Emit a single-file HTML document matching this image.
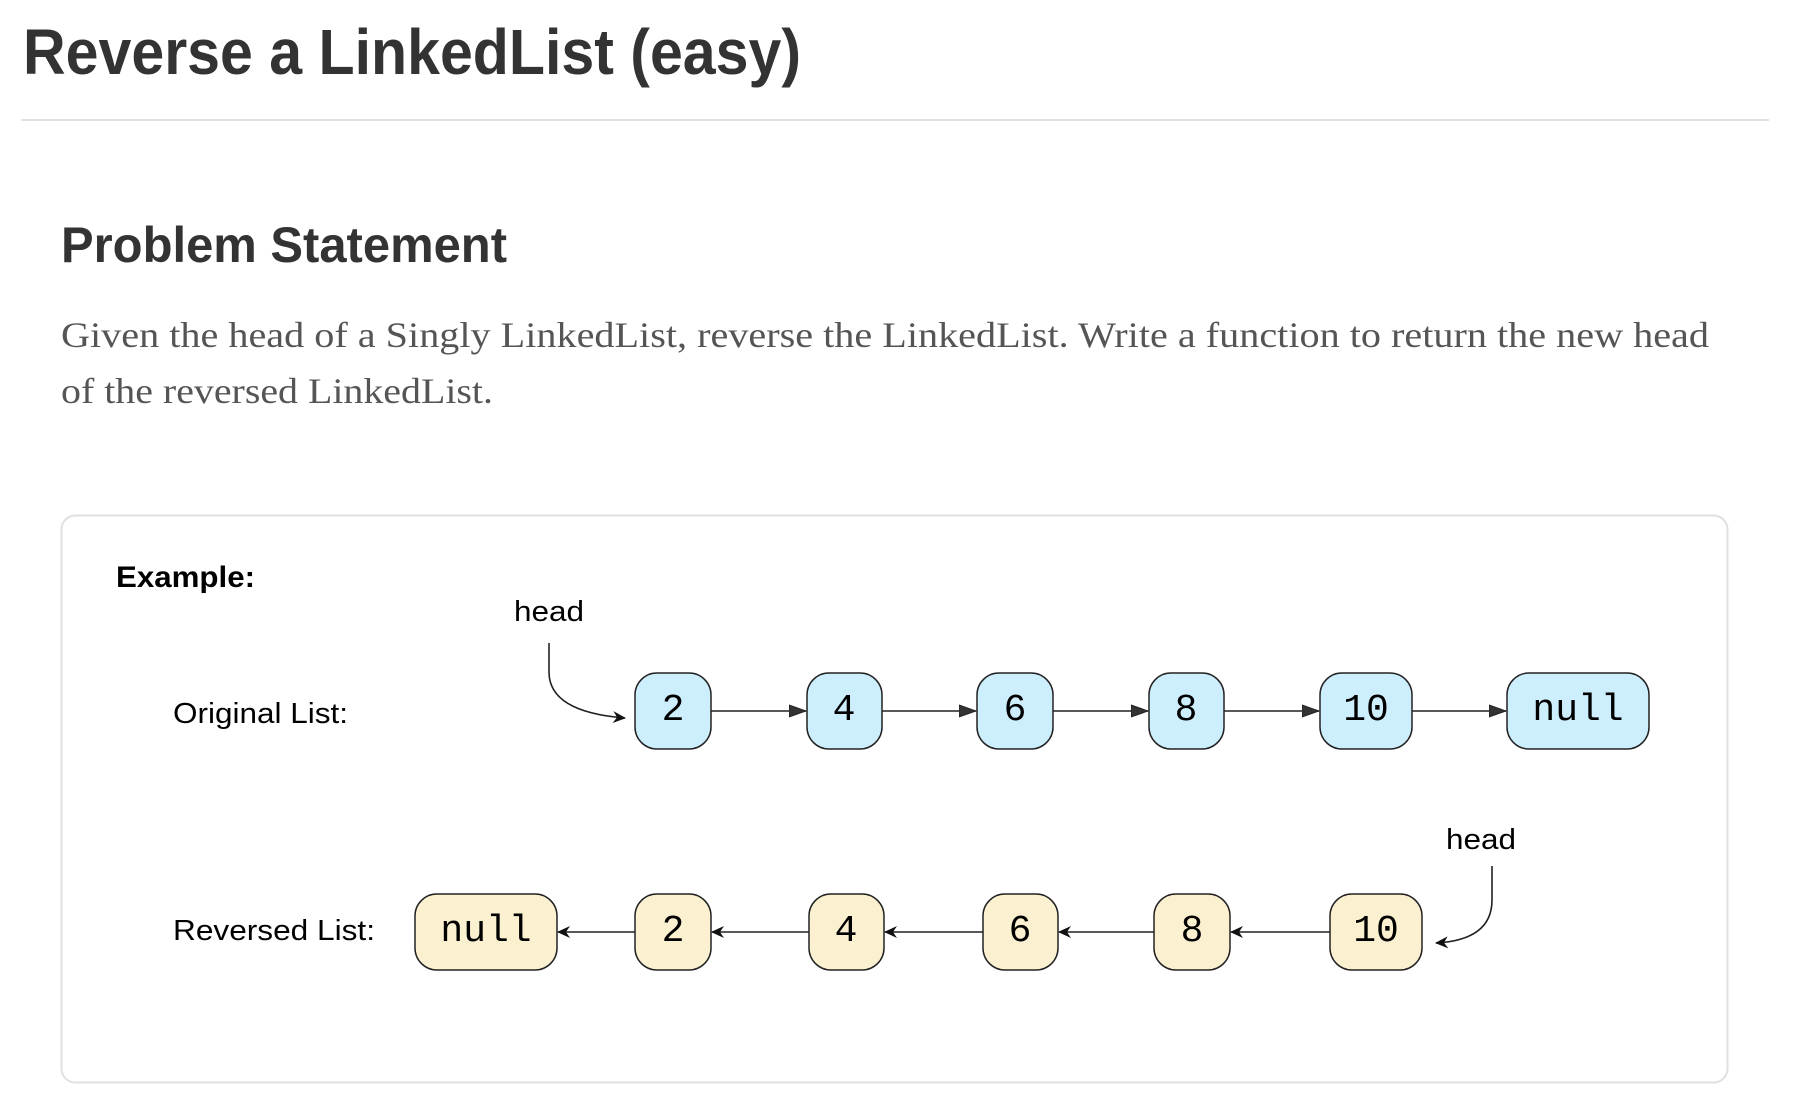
<!DOCTYPE html>
<html><head><meta charset="utf-8"><style>html,body{margin:0;padding:0;background:#fff}svg{display:block}</style></head>
<body>
<svg width="1794" height="1120" viewBox="0 0 1794 1120" xmlns="http://www.w3.org/2000/svg">
<defs>
<marker id="tri" markerWidth="18" markerHeight="14" refX="17" refY="7" orient="auto" markerUnits="userSpaceOnUse" viewBox="0 0 18 14">
<path d="M0,1 L17,7 L0,13 z" fill="#333" stroke="#222" stroke-width="1"/></marker>
<marker id="stl" markerWidth="14" markerHeight="14" refX="12" refY="7" orient="auto" markerUnits="userSpaceOnUse" viewBox="0 0 14 14">
<path d="M0,1 L13,7 L0,13 L4,7 z" fill="#111"/></marker>
</defs>
<g font-family="Liberation Sans, sans-serif" fill="#333">
<text x="23" y="74" font-size="64" font-weight="bold" textLength="778" lengthAdjust="spacingAndGlyphs">Reverse a LinkedList (easy)</text>
<rect x="21" y="119" width="1748" height="2" fill="#e2e2e2"/>
<text x="61" y="262" font-size="50" font-weight="bold" textLength="446" lengthAdjust="spacingAndGlyphs">Problem Statement</text>
</g>
<g font-family="Liberation Serif, serif" fill="#555" font-size="36">
<text x="61" y="347" textLength="1648" lengthAdjust="spacingAndGlyphs">Given the head of a Singly LinkedList, reverse the LinkedList. Write a function to return the new head</text>
<text x="61" y="403" textLength="432" lengthAdjust="spacingAndGlyphs">of the reversed LinkedList.</text>
</g>
<rect x="61.5" y="515.5" width="1666" height="567" rx="14" fill="#fff" stroke="#e0e0e0" stroke-width="2"/>
<g font-family="Liberation Sans, sans-serif" fill="#000">
<text x="116" y="587" font-size="30" font-weight="bold" textLength="139" lengthAdjust="spacingAndGlyphs">Example:</text>
<text x="514" y="621" font-size="29" textLength="70" lengthAdjust="spacingAndGlyphs">head</text>
<text x="173" y="723" font-size="29" textLength="175" lengthAdjust="spacingAndGlyphs">Original List:</text>
<text x="1446" y="849" font-size="29" textLength="70" lengthAdjust="spacingAndGlyphs">head</text>
<text x="173" y="940" font-size="29" textLength="202" lengthAdjust="spacingAndGlyphs">Reversed List:</text>
</g>
<g stroke="#222" stroke-width="1.6" fill="none">
<path d="M549,643 L549,672 Q549,712 625,718" marker-end="url(#stl)"/>
<path d="M1492,866 L1492,900 Q1492,940 1436,943" marker-end="url(#stl)"/>
<line x1="711" y1="711" x2="806" y2="711" marker-end="url(#tri)"/>
<line x1="882" y1="711" x2="976" y2="711" marker-end="url(#tri)"/>
<line x1="1053" y1="711" x2="1148" y2="711" marker-end="url(#tri)"/>
<line x1="1224" y1="711" x2="1319" y2="711" marker-end="url(#tri)"/>
<line x1="1412" y1="711" x2="1506" y2="711" marker-end="url(#tri)"/>
<line x1="635" y1="932" x2="558" y2="932" marker-end="url(#stl)"/>
<line x1="809" y1="932" x2="712" y2="932" marker-end="url(#stl)"/>
<line x1="983" y1="932" x2="885" y2="932" marker-end="url(#stl)"/>
<line x1="1154" y1="932" x2="1059" y2="932" marker-end="url(#stl)"/>
<line x1="1330" y1="932" x2="1231" y2="932" marker-end="url(#stl)"/>
</g>
<g stroke="#222" stroke-width="1.5" fill="#cdeefc">
<rect x="635" y="673" width="76" height="76" rx="22"/>
<rect x="807" y="673" width="75" height="76" rx="22"/>
<rect x="977" y="673" width="76" height="76" rx="22"/>
<rect x="1149" y="673" width="75" height="76" rx="22"/>
<rect x="1320" y="673" width="92" height="76" rx="22"/>
<rect x="1507" y="673" width="142" height="76" rx="22"/>
</g>
<g stroke="#222" stroke-width="1.5" fill="#fbf0cf">
<rect x="415" y="894" width="142" height="76" rx="22"/>
<rect x="635" y="894" width="76" height="76" rx="22"/>
<rect x="809" y="894" width="75" height="76" rx="22"/>
<rect x="983" y="894" width="75" height="76" rx="22"/>
<rect x="1154" y="894" width="76" height="76" rx="22"/>
<rect x="1330" y="894" width="92" height="76" rx="22"/>
</g>
<g font-family="Liberation Mono, monospace" font-size="38" fill="#000" text-anchor="middle">
<text x="673" y="720">2</text>
<text x="844" y="720">4</text>
<text x="1015" y="720">6</text>
<text x="1186" y="720">8</text>
<text x="1366" y="720">10</text>
<text x="1578" y="720">null</text>
<text x="486" y="941">null</text>
<text x="673" y="941">2</text>
<text x="846" y="941">4</text>
<text x="1020" y="941">6</text>
<text x="1192" y="941">8</text>
<text x="1376" y="941">10</text>
</g>
</svg>
</body></html>
